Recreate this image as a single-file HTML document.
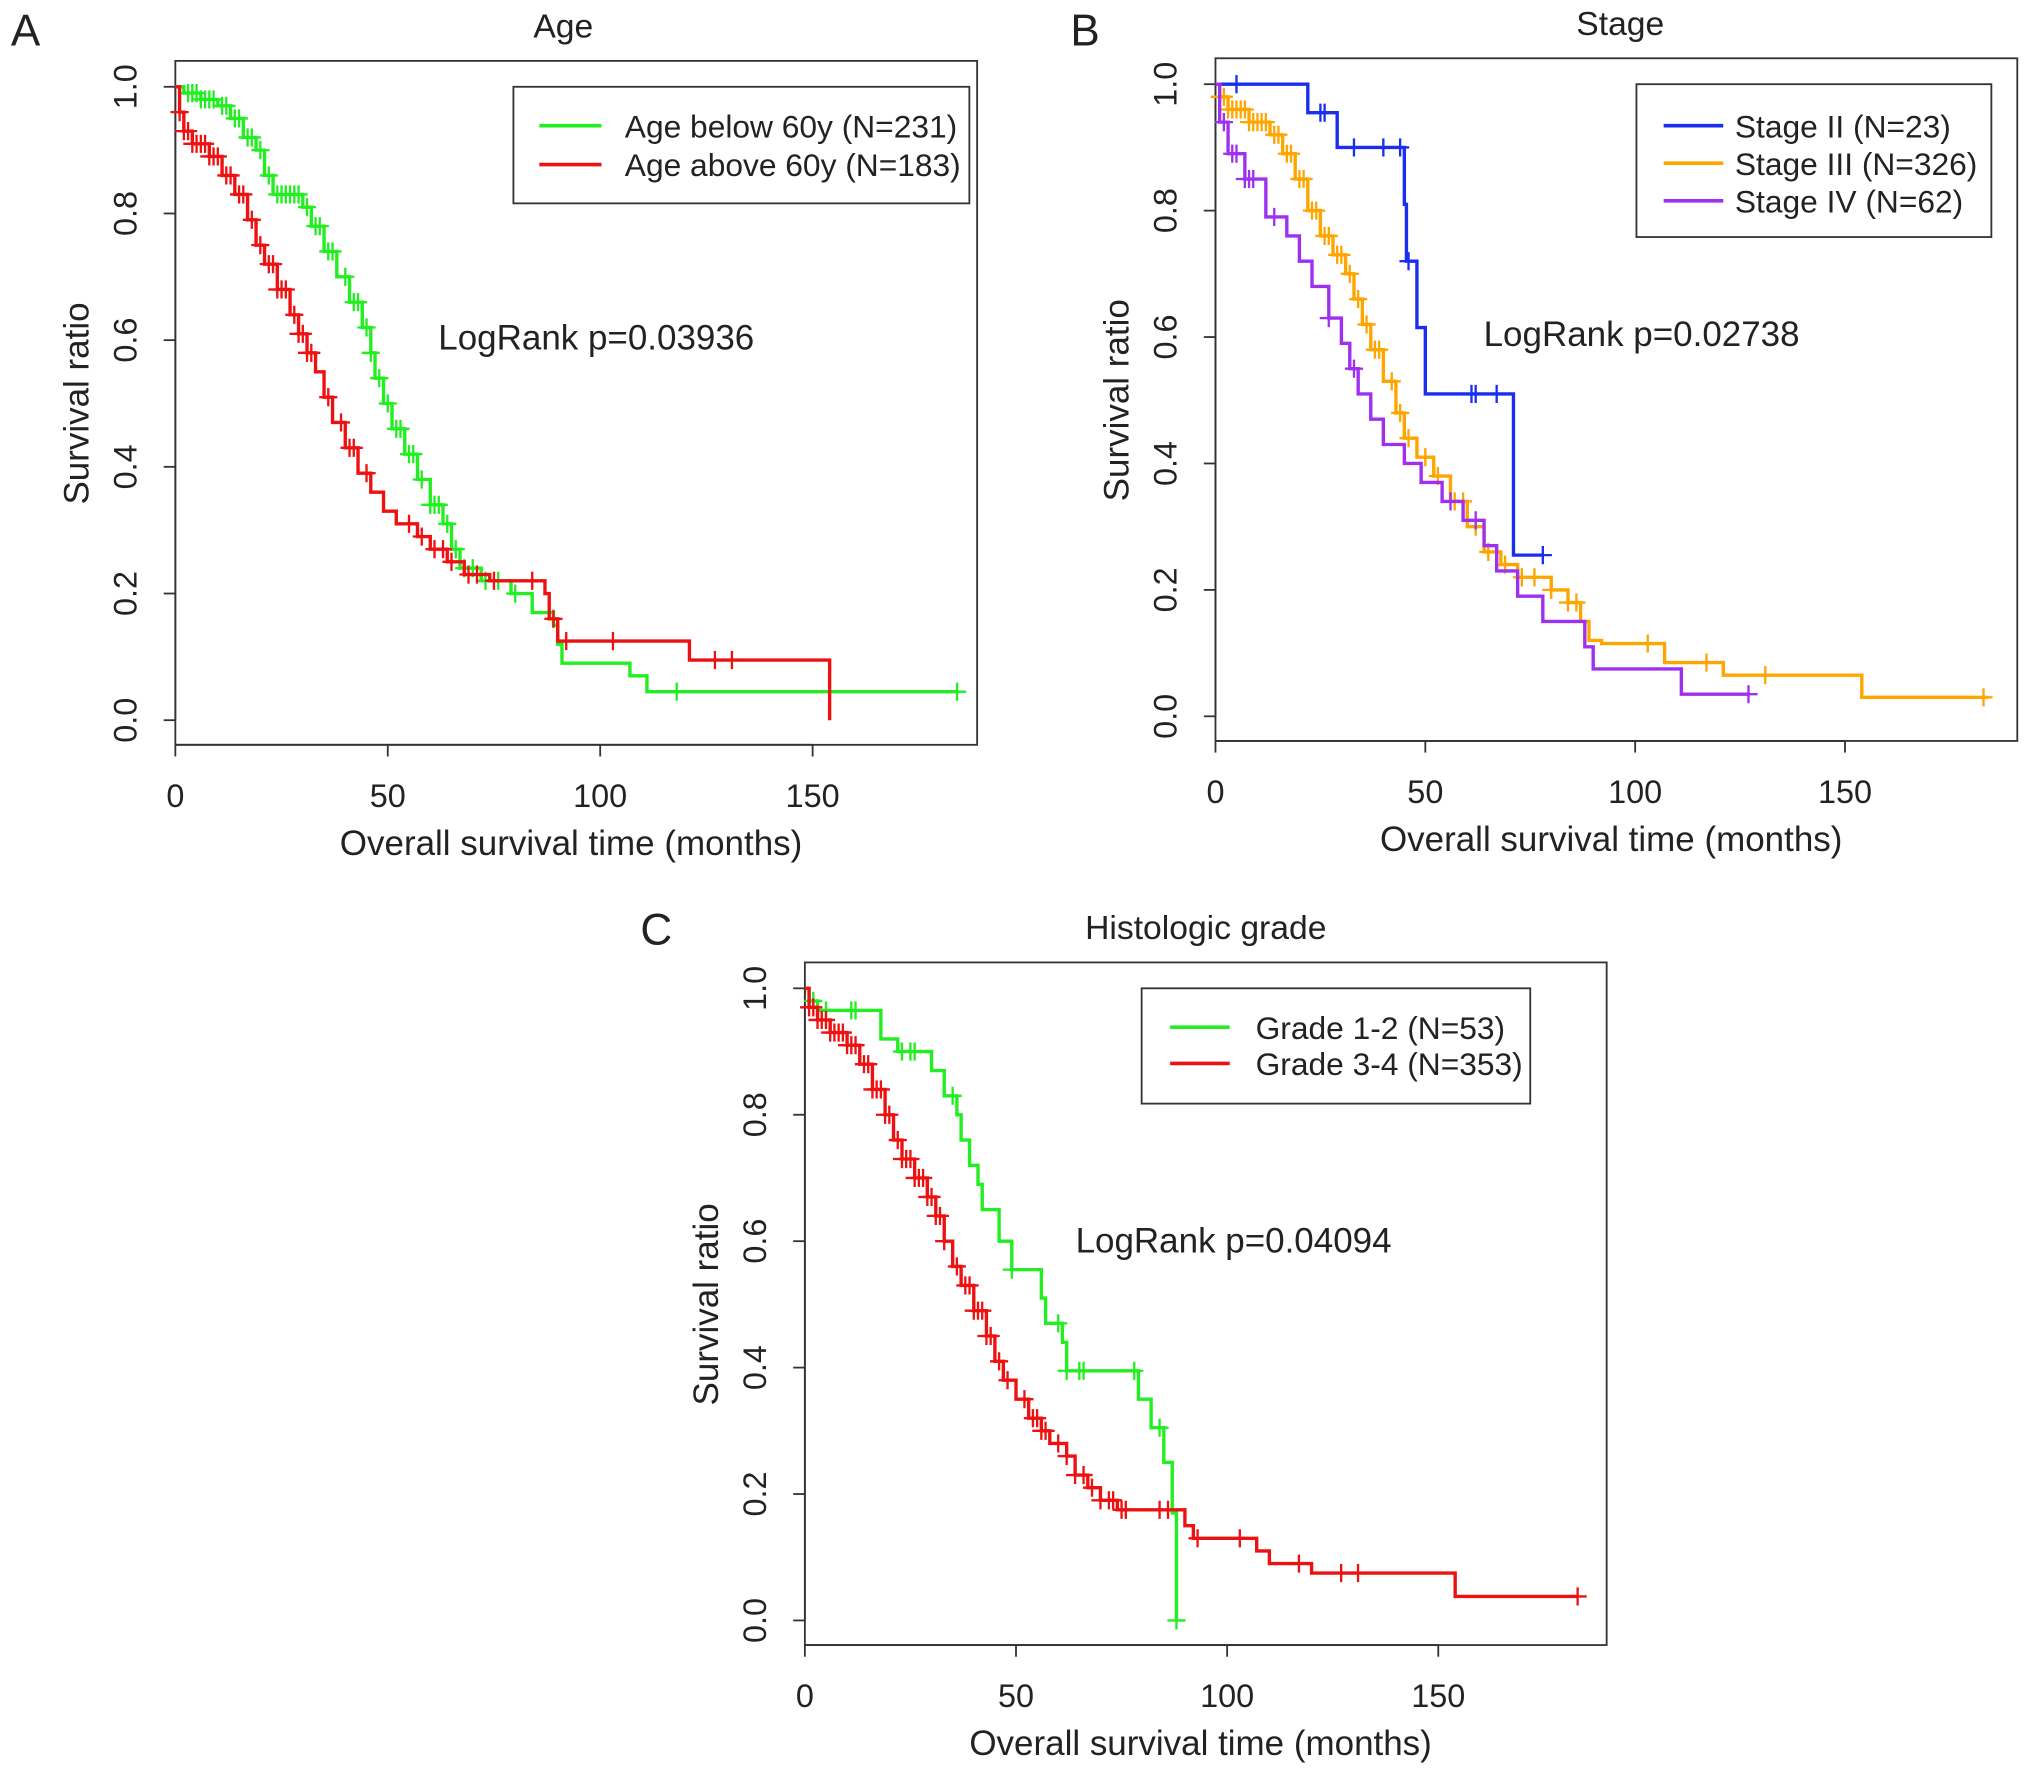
<!DOCTYPE html>
<html><head><meta charset="utf-8"><style>
html,body{margin:0;padding:0;background:#fff}
svg{display:block}
text{font-family:"Liberation Sans",sans-serif;fill:#222}
</style></head><body>
<svg id="fig" width="2032" height="1772" viewBox="0 0 1568 1368" xmlns="http://www.w3.org/2000/svg"></svg>
<script>
// ---------- Panel A: Age ----------
const ageGreenSteps = [[0,1],[2,0.99],[6,0.98],[10,0.97],[13,0.95],[16,0.92],[19,0.9],[21,0.86],[23,0.83],[30,0.81],[32,0.78],[35,0.74],[38,0.7],[41,0.66],[44,0.62],[46,0.58],[47,0.54],[49,0.5],[51,0.46],[54,0.42],[57,0.38],[60,0.34],[63,0.31],[65,0.27],[67,0.24],[72,0.22],[79,0.2],[84,0.17],[89,0.15],[90,0.12],[91,0.09],[107,0.07],[111,0.045],[184,0.045]];
const ageGreenCens = [3,4,5,6,7,8,9,11,12,14,15,17,18,20,22,24,25,26,27,28,29,31,33,34,36,37,40,42,43,45,46,48,50,52,53,55,56,58,60,61,62,64,66,68,70,73,76,80,118,184];
const ageRedSteps = [[0,1],[1,0.96],[2,0.93],[4,0.91],[8,0.89],[11,0.86],[14,0.83],[17,0.79],[19,0.75],[21,0.72],[24,0.68],[27,0.64],[29,0.61],[31,0.58],[33,0.55],[35,0.51],[37,0.47],[40,0.43],[43,0.39],[46,0.36],[49,0.33],[52,0.31],[57,0.29],[60,0.27],[64,0.25],[68,0.23],[74,0.22],[87,0.2],[88,0.16],[90,0.125],[121,0.095],[154,0.095],[154,0]];
const ageRedCens = [1,2,3,4,5,6,7,8,9,10,12,13,15,16,18,20,22,23,24,25,26,28,29,30,31,32,36,39,41,42,45,55,58,61,63,65,69,71,75,84,89,92,103,127,131];

// ---------- Panel B: Stage ----------
const stage2Steps = [[0,1],[22,0.955],[29,0.9],[45,0.81],[45.5,0.72],[48,0.615],[50,0.51],[71,0.255],[78,0.255]];
const stage2Cens = [5,25,26,33,40,44,46,61,62,67,78];
const stage3Steps = [[0,1],[1,0.98],[3,0.96],[8,0.94],[13,0.92],[16,0.89],[19,0.85],[22,0.8],[25,0.76],[28,0.73],[31,0.7],[33,0.66],[35,0.62],[37,0.58],[40,0.53],[43,0.48],[45,0.44],[48,0.41],[52,0.38],[56,0.34],[60,0.3],[64,0.26],[68,0.24],[72,0.22],[80,0.2],[84,0.18],[87,0.15],[89,0.12],[92,0.115],[107,0.085],[121,0.065],[154,0.03],[184,0.03]];
const stage3Cens = [1,2,3,4,5,6,7,8,9,10,11,12,14,15,17,18,20,21,23,24,26,27,29,30,32,34,36,38,39,42,44,46,50,53,57,59,62,65,69,73,76,80,84,86,103,117,131,183];
const stage4Steps = [[0,1],[1,0.94],[3,0.89],[7,0.85],[12,0.79],[17,0.76],[20,0.72],[23,0.68],[27,0.63],[30,0.59],[32,0.55],[34,0.51],[37,0.47],[40,0.43],[45,0.4],[49,0.37],[54,0.34],[59,0.31],[64,0.27],[67,0.23],[72,0.19],[78,0.15],[88,0.11],[90,0.075],[111,0.035],[127,0.035]];
const stage4Cens = [2,4,5,7,8,9,14,27,33,56,62,127];

// ---------- Panel C: Histologic grade ----------
const grade12Steps = [[0,1],[1,0.98],[3,0.965],[18,0.92],[22,0.9],[30,0.87],[33,0.83],[36,0.8],[37,0.76],[39,0.72],[41,0.69],[42,0.65],[46,0.6],[49,0.555],[56,0.51],[57,0.47],[61,0.44],[62,0.395],[79,0.35],[82,0.305],[85,0.25],[87,0.17],[88,0.0]];
const grade12Cens = [2,5,11,12,23,25,26,35,49,60,62,65,66,78,84,88];
const grade34Steps = [[0,1],[1,0.97],[3,0.95],[6,0.93],[10,0.91],[13,0.88],[16,0.84],[19,0.8],[21,0.76],[23,0.73],[26,0.7],[29,0.67],[31,0.64],[33,0.6],[35,0.56],[37,0.53],[40,0.49],[43,0.45],[45,0.41],[47,0.38],[50,0.35],[53,0.32],[56,0.3],[58,0.28],[62,0.26],[64,0.23],[67,0.21],[70,0.19],[74,0.175],[88,0.175],[90,0.15],[92,0.13],[107,0.11],[110,0.09],[120,0.075],[154,0.038],[183,0.038]];
const grade34Cens = [1,2,3,4,5,6,7,8,9,10,11,12,14,15,16,17,18,19,20,22,23,24,25,26,27,28,29,30,31,32,33,36,38,39,40,41,42,43,44,46,48,52,54,55,56,57,60,62,64,66,68,70,72,73,75,76,84,86,93,103,117,127,131,183];

const xTicks = [0,50,100,150];
const yTicks = [0,0.2,0.4,0.6,0.8,1.0];

const NS = "http://www.w3.org/2000/svg";
const svg = document.getElementById('fig');
function mk(tag, attrs, parent){const e=document.createElementNS(NS,tag);for(const k in attrs)e.setAttribute(k,attrs[k]);(parent||svg).appendChild(e);return e;}
function txt(s,attrs,parent){const t=mk('text',attrs,parent);t.textContent=s;return t;}
function survAt(steps,t){let v=steps[0][1];for(const [x,y] of steps){if(x<=t)v=y;else break;}return v;}

function panel(cfg){
  const g=mk('g',{});
  
  
  const X=t=>cfg.x0+t*cfg.kx, Y=s=>cfg.y0-s*(cfg.y0-cfg.y1);
  const fr=mk('rect',{x:cfg.fx,y:cfg.fy,width:cfg.fw,height:cfg.fh,fill:'none',stroke:'#333','stroke-width':1.4},g);
  
  
  const bot=cfg.fy+cfg.fh, left=cfg.fx;
  const xa=mk('g',{},g);
  
  
  mk('line',{x1:X(xTicks[0]),x2:X(xTicks[xTicks.length-1]),y1:bot,y2:bot,stroke:'#333','stroke-width':1.4},xa);
  xTicks.forEach(v=>{
    mk('line',{x1:X(v),x2:X(v),y1:bot,y2:bot+9,stroke:'#333','stroke-width':1.4},xa);
    const t=txt(String(v),{x:X(v),y:bot+48,'font-size':25,'text-anchor':'middle'},xa);
    
    
  });
  const xt=txt('Overall survival time (months)',{x:cfg.fx+cfg.fw/2-4,y:bot+85,'font-size':27,'text-anchor':'middle'},g);
  
  
  const ya=mk('g',{},g);
  
  
  mk('line',{x1:left,x2:left,y1:Y(0),y2:Y(1),stroke:'#333','stroke-width':1.4},ya);
  yTicks.forEach(v=>{
    mk('line',{x1:left,x2:left-9,y1:Y(v),y2:Y(v),stroke:'#333','stroke-width':1.4},ya);
    const t=txt(v.toFixed(1),{x:0,y:0,'font-size':25,'text-anchor':'middle',transform:`translate(${left-30},${Y(v)}) rotate(-90)`},ya);
    
    
  });
  const yt=txt('Survival ratio',{x:0,y:0,'font-size':27,'text-anchor':'middle',transform:`translate(${left-67},${(Y(0)+Y(1))/2}) rotate(-90)`},g);
  
  
  const tt=txt(cfg.title,{x:cfg.fx+cfg.fw/2+cfg.tdx,y:cfg.fy-18,'font-size':26,'text-anchor':'middle'},g);
  
  
  const pl=txt(cfg.letter,{x:cfg.lx,y:cfg.ly,'font-size':34},g);
  
  
  const lr=txt(cfg.logrank,{x:cfg.lrx,y:cfg.lry,'font-size':27},g);
  
  
  cfg.series.forEach(s=>{
    const sg=mk('g',{},g);
    
    
    let d=`M${X(s.steps[0][0])},${Y(s.steps[0][1])}`;
    for(let i=1;i<s.steps.length;i++){d+=` H${X(s.steps[i][0])} V${Y(s.steps[i][1])}`;}
    const p=mk('path',{d:d,fill:'none',stroke:s.color,'stroke-width':2.6},sg);
    
    
    s.cens.forEach(c=>{
      const cx=X(c), cy=Y(survAt(s.steps,c));
      const m=mk('path',{d:`M${cx-7},${cy} H${cx+7} M${cx},${cy-7} V${cy+7}`,stroke:s.color,'stroke-width':1.8,fill:'none'},sg);
      
      
    });
  });
  const lg=mk('g',{},g);
  
  
  mk('rect',{x:cfg.lgx,y:cfg.lgy,width:cfg.lgw,height:cfg.lgh,fill:'#fff',stroke:'#333','stroke-width':1.4},lg);
  cfg.series.forEach((s,i)=>{
    const ey=cfg.lgy+cfg.lgFirst+i*cfg.lgStep;
    const e=mk('g',{},lg);
    
    
    mk('line',{x1:cfg.lgx+cfg.lgLine[0],x2:cfg.lgx+cfg.lgLine[1],y1:ey,y2:ey,stroke:s.color,'stroke-width':2.8},e);
    txt(s.label,{x:cfg.lgx+cfg.lgText,y:ey+9,'font-size':24.5},e);
  });
}

panel({name:'panel-a-age',title:'Age',tdx:-10,letter:'A',lx:8,ly:35,fx:135,fy:47,fw:619,fh:528,x0:135,kx:3.28,y0:556,y1:67,
  logrank:'LogRank p=0.03936',lrx:338,lry:270,lgx:396,lgy:67,lgw:352,lgh:90,lgFirst:30,lgStep:30,lgLine:[20,68],lgText:86,
  series:[{name:'series-age-below-60',color:'#22ee22',steps:ageGreenSteps,cens:ageGreenCens,label:'Age below 60y (N=231)'},
          {name:'series-age-above-60',color:'#ee1111',steps:ageRedSteps,cens:ageRedCens,label:'Age above 60y (N=183)'}]});
panel({name:'panel-b-stage',title:'Stage',tdx:3,letter:'B',lx:826,ly:35,fx:938,fy:45,fw:619,fh:527,x0:938,kx:3.24,y0:553,y1:65,
  logrank:'LogRank p=0.02738',lrx:1145,lry:267,lgx:1263,lgy:65,lgw:274,lgh:118,lgFirst:32,lgStep:29,lgLine:[21,67],lgText:76,
  series:[{name:'series-stage-ii',color:'#1a2ef0',steps:stage2Steps,cens:stage2Cens,label:'Stage II (N=23)'},
          {name:'series-stage-iii',color:'#ffa500',steps:stage3Steps,cens:stage3Cens,label:'Stage III (N=326)'},
          {name:'series-stage-iv',color:'#a030f0',steps:stage4Steps,cens:stage4Cens,label:'Stage IV (N=62)'}]});
panel({name:'panel-c-grade',title:'Histologic grade',tdx:0,letter:'C',lx:494,ly:729,fx:621,fy:743,fw:619,fh:527,x0:621,kx:3.26,y0:1251,y1:763,
  logrank:'LogRank p=0.04094',lrx:830,lry:967,lgx:881,lgy:763,lgw:300,lgh:89,lgFirst:30,lgStep:28,lgLine:[22,68],lgText:88,
  series:[{name:'series-grade-1-2',color:'#22ee22',steps:grade12Steps,cens:grade12Cens,label:'Grade 1-2 (N=53)'},
          {name:'series-grade-3-4',color:'#ee1111',steps:grade34Steps,cens:grade34Cens,label:'Grade 3-4 (N=353)'}]});
</script>
</body></html>
